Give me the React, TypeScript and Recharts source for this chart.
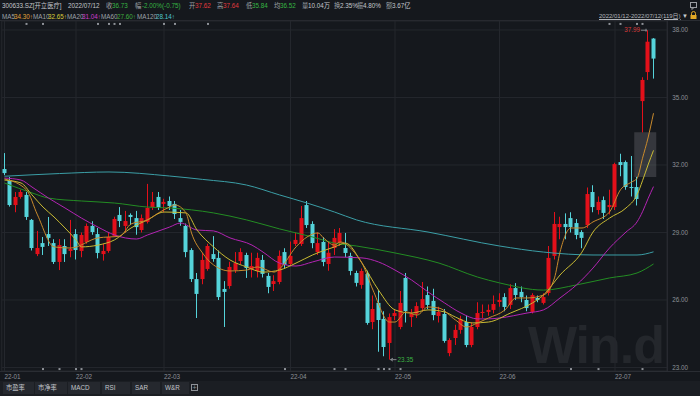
import React from 'react';
import { ComposedChart, Bar, Line, XAxis, YAxis, CartesianGrid, ReferenceArea } from 'recharts';

// ---- data ----
const openPrices = [31.82,31.33,30.22,30.58,30.67,29.56,28.04,28.53,28.93,28.53,27.69,28.40,28.18,28.93,28.18,28.58,29.29,28.93,28.04,28.18,28.84,29.78,29.29,29.78,29.64,29.11,29.47,30.13,30.58,30.27,30.40,30.27,29.64,29.29,28.22,26.93,26.93,27.38,28.04,27.87,26.49,26.62,27.33,27.73,28.00,27.38,27.29,27.78,27.07,26.71,26.80,28.13,27.60,28.49,28.49,30.22,29.38,28.13,28.58,27.60,28.31,28.53,28.31,27.96,27.20,26.67,27.16,25.02,25.87,25.16,24.09,25.29,24.80,26.98,25.24,25.38,25.64,26.22,25.96,25.29,25.38,23.64,24.31,24.67,25.02,24.00,24.80,25.42,25.47,25.56,25.91,26.13,25.78,26.53,26.36,26.00,25.47,26.09,25.87,26.31,27.96,29.24,29.38,29.64,29.42,29.02,29.33,30.80,30.00,30.44,30.13,30.13,32.13,32.13,31.02,31.02,34.84,36.13,37.62];
const highPrices = [32.53,31.47,30.80,30.90,30.80,29.60,29.07,28.80,29.69,28.70,28.71,28.70,29.56,29.15,29.00,29.40,29.50,29.20,28.50,29.00,29.70,30.13,29.96,29.85,29.96,29.80,31.16,30.80,30.80,30.50,30.60,30.40,30.00,29.40,28.30,27.20,28.10,28.50,28.84,28.20,26.84,27.70,28.13,28.30,28.10,28.10,28.10,28.00,27.20,27.10,28.20,28.30,28.60,29.00,30.18,30.40,29.50,29.00,28.80,28.60,29.15,29.20,28.98,28.10,27.30,27.40,27.30,26.20,26.44,25.50,25.40,25.60,26.40,27.20,25.60,25.90,26.80,26.60,26.50,25.70,25.60,24.30,24.90,25.30,25.30,25.00,25.90,25.80,25.80,26.20,26.30,26.30,26.70,26.75,26.60,26.20,26.30,26.20,26.30,28.40,29.91,29.70,29.85,29.90,29.60,29.10,31.00,31.10,30.60,30.60,30.90,32.10,32.50,32.20,32.40,31.47,35.90,37.99,37.64];
const lowPrices = [31.55,30.15,29.90,30.50,29.56,28.20,27.95,28.00,28.40,27.60,27.33,27.69,27.90,27.80,27.90,28.50,28.90,27.85,27.75,28.10,28.80,29.24,29.00,29.33,28.90,29.00,29.40,30.00,30.00,29.90,30.00,29.60,29.30,27.90,26.80,25.20,26.70,27.30,27.70,26.00,24.80,26.50,27.20,27.60,26.98,27.00,27.00,27.00,26.30,26.40,26.70,27.40,27.50,28.40,28.40,29.20,28.30,28.00,27.50,27.30,28.00,28.40,27.90,27.10,26.60,26.50,24.90,24.70,23.70,23.50,23.35,25.10,24.70,25.00,24.80,25.20,25.50,25.60,25.10,25.00,24.10,23.50,24.00,24.50,23.90,23.90,24.70,25.20,25.30,25.40,25.70,25.50,25.60,26.00,25.90,25.50,25.40,25.90,25.80,26.20,27.80,28.70,28.70,29.00,28.70,28.30,29.20,29.90,29.80,29.60,29.80,30.00,31.50,30.90,30.60,30.20,33.45,35.78,35.84];
const closePrices = [31.64,30.22,30.58,30.80,29.69,28.31,28.31,28.36,28.76,27.69,28.44,28.04,28.27,28.22,28.89,29.29,29.02,28.09,28.18,28.80,29.60,29.51,29.51,29.69,29.24,29.64,30.09,30.36,30.09,30.36,30.18,29.82,29.47,28.13,26.93,26.27,27.78,28.40,27.82,26.13,26.36,27.47,27.64,28.13,27.42,27.51,27.87,27.16,26.58,26.84,27.96,27.56,27.96,28.67,29.64,29.33,28.53,28.53,27.69,28.10,28.76,28.98,28.09,27.29,26.76,27.29,24.98,25.60,25.11,23.91,25.24,25.42,25.87,25.51,25.38,25.73,26.04,25.78,25.33,25.47,24.18,24.22,24.67,25.16,24.00,24.80,25.42,25.47,25.56,25.82,26.00,25.69,26.53,26.22,26.13,25.64,26.22,26.00,26.13,27.87,29.38,29.38,29.24,29.24,28.89,28.76,30.71,30.13,30.36,29.87,30.22,32.04,32.00,31.02,30.98,30.49,35.78,37.48,36.73];

// moving-average lines, read at sample candles: [candle index, value]
const ma5Pts = [[0,31.38],[4,30.89],[6,29.78],[9,28.36],[12,28.31],[17,28.76],[21,28.84],[23,29.38],[26,29.56],[28,29.87],[30,30.13],[31,30.22],[33,29.87],[34,28.98],[36,28.09],[38,27.56],[41,27.29],[44,27.33],[46,27.47],[49,27.24],[50,27.38],[53,28.36],[55,28.8],[57,28.98],[58,28.76],[60,28.44],[61,28.58],[64,28.0],[65,27.64],[67,26.44],[70,25.02],[71,25.02],[73,25.47],[75,25.33],[77,25.69],[79,25.64],[82,25.11],[84,24.8],[86,24.98],[88,25.2],[91,25.56],[93,26.09],[95,26.09],[98,26.22],[100,26.98],[101,28.13],[103,29.2],[105,29.2],[107,29.47],[110,29.91],[112,30.9],[114,31.24],[115,31.4],[116,32.3],[117,33.2],[118,34.30]];
const ma10Pts = [[0,31.33],[3,31.2],[5,30.67],[7,30.13],[9,29.69],[11,29.2],[13,28.67],[14,28.36],[17,28.44],[20,28.67],[23,29.2],[26,29.56],[29,29.91],[33,29.87],[35,29.11],[38,28.36],[41,27.78],[44,27.47],[47,27.24],[50,27.33],[53,27.64],[56,28.0],[60,28.36],[62,28.53],[65,27.64],[68,26.44],[71,25.56],[74,25.42],[77,25.56],[80,25.47],[82,25.24],[85,24.98],[88,25.02],[92,25.42],[96,25.87],[98,26.22],[101,27.11],[105,28.13],[107,29.02],[110,29.64],[113,30.09],[115,30.67],[116,31.3],[117,32.0],[118,32.65]];
const ma20Pts = [[0,31.42],[3,31.33],[5,31.02],[8,30.53],[11,30.09],[14,29.64],[17,29.24],[20,28.89],[24,28.71],[26,28.89],[30,29.24],[32,29.42],[35,29.11],[38,29.07],[41,28.76],[45,28.44],[47,28.13],[50,27.64],[53,27.51],[56,27.69],[60,27.91],[65,27.87],[68,27.69],[71,27.33],[74,26.89],[77,26.36],[80,25.87],[83,25.42],[86,25.16],[88,25.16],[90,25.2],[95,25.42],[98,25.56],[101,26.09],[104,26.67],[107,27.42],[110,28.31],[113,29.02],[115,29.47],[116,29.92],[117,30.5],[118,31.04]];
const ma60Pts = [[0,31.2],[5,30.76],[8,30.53],[14,30.4],[20,30.31],[26,30.13],[30,30.09],[38,29.87],[44,29.56],[50,29.16],[56,28.8],[60,28.53],[64,28.4],[71,28.09],[79,27.64],[86,27.02],[90,26.76],[98,26.44],[104,26.67],[110,26.98],[115,27.2],[118,27.6]];
const ma120Pts = [[0,31.5],[10,31.62],[19,31.69],[30,31.51],[36,31.36],[44,31.11],[50,30.67],[55,30.31],[60,29.91],[64,29.56],[77,29.02],[90,28.4],[98,28.13],[107,28.0],[115,28.0],[118,28.14]];

const monthTickIdx = [0, 13, 29, 52, 71, 90, 111];
const monthLabels = ['22-01', '22-02', '22-03', '22-04', '22-05', '22-06', '22-07'];
const priceTicks = [23, 26, 29, 32, 35, 38];

const topMarkers = [4, 7, 17, 19, 20, 21, 29, 31, 37, 110, 112, 115, 116];
const bottomMarkers = [7, 10, 13, 14, 51, 60, 62, 68, 69, 70, 72, 103, 108, 116];
const topMarkerLevel = 38.27;
const bottomMarkerLevel = 22.93;

const maxIdx = 117, maxVal = 37.99;
const minIdx = 70, minVal = 23.35;
const gapFrom = 115, gapTo = 118, gapLow = 31.47, gapHigh = 33.45;

// ---- styles ----
const BG = '#15181d';
const GRID = '#24272d';
const RED = '#e3101a';
const CYAN = '#55d3da';
const C5 = '#c98a2c', C10 = '#c9bb33', C20 = '#b324b3', C60 = '#238c23', C120 = '#3b9ea6';
const TXT = '#8d9197';
const FONT = '"Liberation Sans", "Noto Sans CJK SC", sans-serif';
const FS = 6.3;

const toMap = (pts: number[][]) => new Map(pts.map(([i, v]) => [i, v]));
const m5 = toMap(ma5Pts), m10 = toMap(ma10Pts), m20 = toMap(ma20Pts), m60 = toMap(ma60Pts), m120 = toMap(ma120Pts);

const PAD = 2;
const data = Array.from({ length: closePrices.length + PAD }, (_, i) => {
  const real = i < closePrices.length;
  return {
    i,
    o: real ? openPrices[i] : null,
    h: real ? highPrices[i] : null,
    l: real ? lowPrices[i] : null,
    c: real ? closePrices[i] : null,
    ma5: m5.has(i) ? m5.get(i) : null,
    ma10: m10.has(i) ? m10.get(i) : null,
    ma20: m20.has(i) ? m20.get(i) : null,
    ma60: m60.has(i) ? m60.get(i) : null,
    ma120: m120.has(i) ? m120.get(i) : null,
    topMark: topMarkers.includes(i) ? topMarkerLevel : null,
    botMark: bottomMarkers.includes(i) ? bottomMarkerLevel : null,
    maxMark: i === maxIdx ? maxVal : null,
    minMark: i === minIdx ? minVal : null,
  };
});

const Candle = (props: any) => {
  const { x, y, width, height, payload } = props;
  if (!payload || payload.h == null || !isFinite(y) || !isFinite(height)) return <g />;
  const { o, h, l, c } = payload;
  const top = Math.min(y, y + height);
  const span = Math.abs(height);
  const k = h > l ? span / (h - l) : 0;
  const color = c >= o ? RED : CYAN;
  const cx = Math.round(x + width / 2 - 0.5) + 0.5;
  const bTop = top + (h - Math.max(o, c)) * k;
  const bH = Math.max(1, Math.abs(o - c) * k);
  const bw = 4;
  return (
    <g>
      <line x1={cx} x2={cx} y1={top} y2={top + span} stroke={color} strokeWidth={1} />
      <rect x={cx - bw / 2} y={bTop} width={bw} height={bH} fill={color} />
    </g>
  );
};

const markerDot = (color: string) => (p: any) => {
  if (p.value == null || p.cy == null || !isFinite(p.cy)) return <g key={p.key || p.index} />;
  return <rect key={p.key || p.index} x={p.cx - 1} y={p.cy - 1} width={2} height={2} fill={color} />;
};

const maxDot = (p: any) => {
  if (p.value == null || p.cy == null || !isFinite(p.cy)) return <g key={p.index} />;
  return (
    <g key={p.index}>
      <text x={p.cx - 8} y={p.cy + 2.2} textAnchor="end" fontSize={FS} fill="#d83a3a" fontFamily={FONT}>{maxVal.toFixed(2)}</text>
      <line x1={p.cx - 7} x2={p.cx - 1} y1={p.cy} y2={p.cy} stroke="#9a9da2" strokeWidth={0.8} />
      <line x1={p.cx - 2} x2={p.cx - 2} y1={p.cy - 1.5} y2={p.cy + 1.5} stroke="#9a9da2" strokeWidth={0.8} />
    </g>
  );
};

const minDot = (p: any) => {
  if (p.value == null || p.cy == null || !isFinite(p.cy)) return <g key={p.index} />;
  return (
    <g key={p.index}>
      <line x1={p.cx + 1} x2={p.cx + 7} y1={p.cy} y2={p.cy} stroke="#9a9da2" strokeWidth={0.8} />
      <path d={`M${p.cx + 1},${p.cy} l2.5,-1.5 M${p.cx + 1},${p.cy} l2.5,1.5`} stroke="#9a9da2" strokeWidth={0.8} fill="none" />
      <text x={p.cx + 8} y={p.cy + 2.2} textAnchor="start" fontSize={FS} fill="#3cb043" fontFamily={FONT}>{minVal.toFixed(2)}</text>
    </g>
  );
};

const XTick = (p: any) => {
  const k = monthTickIdx.indexOf(Number(p.payload.value));
  return (
    <text x={p.x} y={p.y + 7.5} textAnchor="start" fontSize={FS} fill={TXT} fontFamily={FONT}>
      {k >= 0 ? monthLabels[k] : ''}
    </text>
  );
};

const YTick = (p: any) => (
  <text x={p.x} y={p.y + 2.2} textAnchor="start" fontSize={FS} fill={TXT} fontFamily={FONT}>
    {Number(p.payload.value).toFixed(2)}
  </text>
);

const S = (x: number, top: number, text: string, color: string, extra: any = {}) => (
  <span key={`${x}-${top}-${text}`} style={{ position: 'absolute', left: x, top, color, whiteSpace: 'nowrap', ...extra }}>{text}</span>
);

const LBL = '#9ea2a8';
const GREEN_T = '#35b543';
const RED_T = '#e0393e';
const WHITE_T = '#c4c7cc';

const row1 = [
  [2, '300633.SZ[开立医疗]', WHITE_T],
  [68, '2022/07/12', WHITE_T],
  [106, '收', LBL], [112, '36.73', GREEN_T],
  [135, '幅', LBL], [142, '-2.00%(-0.75)', GREEN_T],
  [189, '开', LBL], [195, '37.62', RED_T],
  [217, '高', LBL], [223, '37.64', RED_T],
  [246, '低', LBL], [252, '35.84', GREEN_T],
  [274, '均', LBL], [280, '36.52', GREEN_T],
  [302, '量', LBL], [308, '10.04万', WHITE_T],
  [334, '换', LBL], [340, '2.35%', WHITE_T],
  [357, '振', LBL], [363, '4.80%', WHITE_T],
  [386, '额', LBL], [392, '3.67亿', WHITE_T],
];
const row2 = [
  [2, 'MA5', LBL], [14, '34.30↑', '#e3a23a'],
  [33, 'MA10', LBL], [48, '32.65↑', '#d9cc3c'],
  [67, 'MA20', LBL], [82, '31.04↑', '#cf3dcf'],
  [101, 'MA60', LBL], [117, '27.60↑', '#3fae3f'],
  [137, 'MA120', LBL], [156, '28.14↑', '#4fc6ce'],
];
const tabs = [
  [3, 31, '市盈率'], [35, 32, '市净率'], [68, 32, 'MACD'], [102, 28, 'RSI'], [132, 28, 'SAR'], [162, 27, 'W&R'],
];

export default function App() {
  return (
    <div style={{ position: 'fixed', left: 0, top: 0, width: 700, height: 396, background: BG, overflow: 'hidden', fontFamily: FONT, fontSize: FS, lineHeight: '9px' }}>
      {/* watermark */}
      <div style={{ position: 'absolute', left: 528, top: 322, fontFamily: '"Liberation Sans", Arial, sans-serif', fontWeight: 700, fontSize: 52, lineHeight: '46px', color: '#24272c', letterSpacing: -1, whiteSpace: 'nowrap' }}>Win.d</div>

      {/* header */}
      {row1.map(([x, t, c]) => S(x as number, 0.5, t as string, c as string))}
      {row2.map(([x, t, c]) => S(x as number, 11.5, t as string, c as string))}
      {S(599, 11.5, '2022/01/12-2022/07/12(119日)', '#b3b6bb', { textDecoration: 'underline', fontSize: 6 })}
      {S(682, 11.5, '▼', '#c8cbd0', { fontSize: 6 })}
      <svg style={{ position: 'absolute', left: 0, top: 0 }} width={700} height={22}>
        <rect x={690.5} y={2.5} width={6} height={5} fill="none" stroke="#9a9da2" strokeWidth={1} />
        <path d="M692,7.5 l0,2 l2,-2" fill="none" stroke="#9a9da2" strokeWidth={1} />
        <path d="M691.5,15 v-1.5 a2,2 0 0 1 4,0 v1.5" fill="none" stroke="#e0a826" strokeWidth={1} />
        <rect x={690.5} y={15} width={6} height={4} fill="#e0a826" />
        <rect x={0} y={20} width={700} height={1} fill="#2a2d33" />
      </svg>

      {/* chart */}
      <div style={{ position: 'absolute', left: 0, top: 0 }}>
        <ComposedChart width={700} height={382} data={data} margin={{ top: 21, right: 0, bottom: 0, left: 1.75 }}>
          <CartesianGrid stroke={GRID} strokeWidth={1} />
          <XAxis dataKey="i" type="category" ticks={monthTickIdx} interval={0} tick={<XTick />} tickLine={false} axisLine={false} tickSize={0} tickMargin={0} height={11} />
          <YAxis orientation="right" type="number" domain={[22.844, 38.4]} allowDataOverflow ticks={priceTicks} tick={<YTick />} tickLine={false} axisLine={{ stroke: '#2a2d33' }} tickSize={0} tickMargin={5} width={32.75} />
          <ReferenceArea x1={gapFrom} x2={gapTo} y1={gapLow} y2={gapHigh} fill="#6a6d72" fillOpacity={0.38} stroke="none" ifOverflow="visible" />
          <Bar dataKey={(d: any) => (d.h == null ? null : [d.l, d.h])} barSize={5} shape={<Candle />} isAnimationActive={false} />
          <Line dataKey="ma120" stroke={C120} strokeWidth={1} dot={false} activeDot={false} connectNulls type="monotone" isAnimationActive={false} />
          <Line dataKey="ma60" stroke={C60} strokeWidth={1} dot={false} activeDot={false} connectNulls type="monotone" isAnimationActive={false} />
          <Line dataKey="ma20" stroke={C20} strokeWidth={1} dot={false} activeDot={false} connectNulls type="monotone" isAnimationActive={false} />
          <Line dataKey="ma10" stroke={C10} strokeWidth={1} dot={false} activeDot={false} connectNulls type="monotone" isAnimationActive={false} />
          <Line dataKey="ma5" stroke={C5} strokeWidth={1} dot={false} activeDot={false} connectNulls type="monotone" isAnimationActive={false} />
          <Line dataKey="topMark" stroke="none" dot={markerDot('#8e9298')} activeDot={false} isAnimationActive={false} />
          <Line dataKey="botMark" stroke="none" dot={markerDot('#8e9298')} activeDot={false} isAnimationActive={false} />
          <Line dataKey="maxMark" stroke="none" dot={maxDot} activeDot={false} isAnimationActive={false} />
          <Line dataKey="minMark" stroke="none" dot={minDot} activeDot={false} isAnimationActive={false} />
        </ComposedChart>
      </div>

      {/* axis base line */}
      <div style={{ position: 'absolute', left: 0, top: 371, width: 700, height: 1, background: '#2a2d33' }} />

      {/* bottom tab bar */}
      <div style={{ position: 'absolute', left: 0, top: 381, width: 700, height: 15, background: '#1b1e23' }} />
      {tabs.map(([x, w, t]) => (
        <div key={t as string} style={{ position: 'absolute', left: x as number, top: 382, width: w as number, height: 12, background: '#25282e', color: '#c3c6cb', fontSize: FS, lineHeight: '12px', paddingLeft: 3, boxSizing: 'border-box' }}>{t}</div>
      ))}
      <div style={{ position: 'absolute', left: 191, top: 384, width: 7, height: 7, border: '1px solid #8e9298', boxSizing: 'border-box', color: '#8e9298', fontSize: 7, lineHeight: '5px', textAlign: 'center' }}>+</div>
    </div>
  );
}
